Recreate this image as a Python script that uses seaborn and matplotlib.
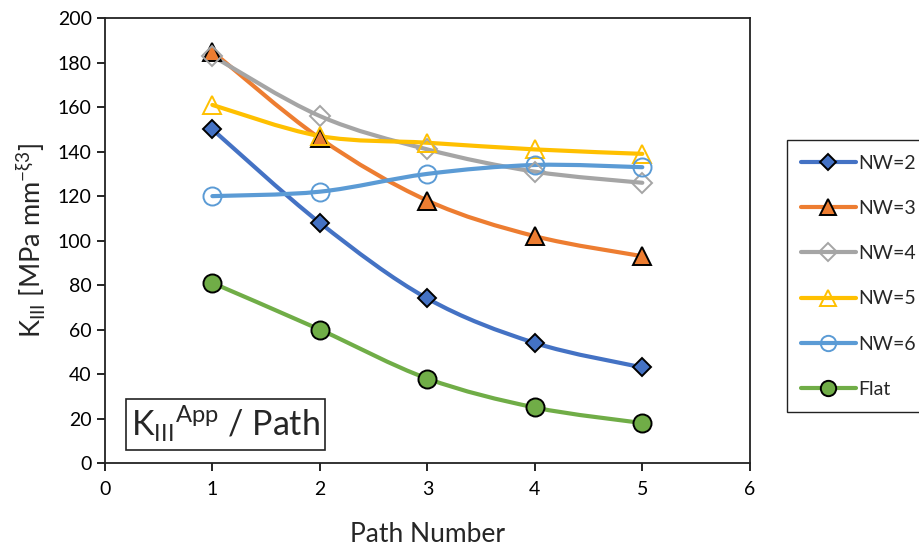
import numpy as np
import matplotlib
matplotlib.use("Agg")
import matplotlib.pyplot as plt
import seaborn as sns
from matplotlib.path import Path
from matplotlib.patches import PathPatch
from matplotlib.lines import Line2D

# ── Data ────────────────────────────────────────────────────────────────────
PATH = [1, 2, 3, 4, 5]
NW2 = [150, 108, 74, 54, 43]
NW3 = [185, 146, 118, 102, 93]
NW4 = [183, 156, 141, 131, 126]
NW5 = [161, 147, 144, 141, 139]
NW6 = [120, 122, 130, 134, 133]
FLAT = [81, 60, 38, 25, 18]
LABELS = ["NW=2", "NW=3", "NW=4", "NW=5", "NW=6", "Flat"]

# colour, marker, markersize, face, edge
STYLES = [
    ("#4472C4", "D", 9.5, "#4472C4", "black"),
    ("#ED7D31", "^", 13, "#ED7D31", "black"),
    ("#A5A5A5", "D", 10.5, "none", "#A5A5A5"),
    ("#FFC000", "^", 13, "none", "#FFC000"),
    ("#5B9BD5", "o", 13, "none", "#5B9BD5"),
    ("#70AD47", "o", 13, "#70AD47", "black"),
]

sns.set_style("white")
plt.rcParams["font.family"] = ["Lato", "DejaVu Sans"]
plt.rcParams["mathtext.fontset"] = "custom"
plt.rcParams["mathtext.rm"] = "Lato"


def smooth_path(xs, ys):
    # Excel-like smoothed line: Catmull-Rom segments as cubic Beziers
    pts = np.column_stack([xs, ys]).astype(float)
    ext = np.vstack([pts[0], pts, pts[-1]])
    verts = [pts[0]]
    codes = [Path.MOVETO]
    for i in range(len(pts) - 1):
        p0, p1, p2, p3 = ext[i], ext[i + 1], ext[i + 2], ext[i + 3]
        verts += [p1 + (p2 - p0) / 6, p2 - (p3 - p1) / 6, p2]
        codes += [Path.CURVE4] * 3
    return Path(verts, codes)


fig = plt.figure(figsize=(9.2, 5.5), dpi=100)
ax = fig.add_axes([0.114, 0.158, 0.701, 0.809])

handles = []
for vals, lab, (c, m, ms, fc, ec) in zip([NW2, NW3, NW4, NW5, NW6, FLAT], LABELS, STYLES):
    ax.add_patch(PathPatch(smooth_path(PATH, vals), fill=False, edgecolor=c,
                           lw=3, capstyle="round", joinstyle="round"))
    sns.lineplot(x=PATH, y=vals, ax=ax, lw=0, marker=m, markersize=ms,
                 markerfacecolor=fc, markeredgecolor=ec, markeredgewidth=1.4,
                 color=c)
    handles.append(Line2D([], [], color=c, lw=3, marker=m, markersize=ms * 0.85,
                          markerfacecolor=fc, markeredgecolor=ec,
                          markeredgewidth=1.4, label=lab))

ax.set_xlim(0, 6)
ax.set_ylim(0, 200)
ax.set_xticks(range(0, 7))
ax.set_yticks(range(0, 201, 20))
ax.tick_params(axis="both", direction="out", length=6, width=1.2,
               labelsize=14, colors="black", bottom=True, left=True)
ax.tick_params(axis="x", pad=7)
for s in ax.spines.values():
    s.set_visible(True)
    s.set_color("#222222")
    s.set_linewidth(1.3)

ax.set_xlabel("Path Number", fontsize=19, labelpad=17)
ax.set_ylabel(r"K$_\mathregular{III}$ [MPa mm$^\mathregular{-ξ3}$]", fontsize=19.5,
              labelpad=8)

ax.text(0.04, 0.042, r"K$_\mathregular{III}$$^\mathregular{App}$ / Path",
        transform=ax.transAxes, fontsize=24.5, ha="left", va="bottom",
        bbox=dict(boxstyle="square,pad=0.15", fc="white", ec="#222222", lw=1.2))

fig.legend(handles=handles, loc="upper left", bbox_to_anchor=(0.855, 0.745),
           borderaxespad=0, frameon=True, fancybox=False, edgecolor="#222222",
           framealpha=1, fontsize=14, labelspacing=1.45, handlelength=2.8,
           handletextpad=0.12, borderpad=0.75)

fig.savefig("out.png", dpi=100)
